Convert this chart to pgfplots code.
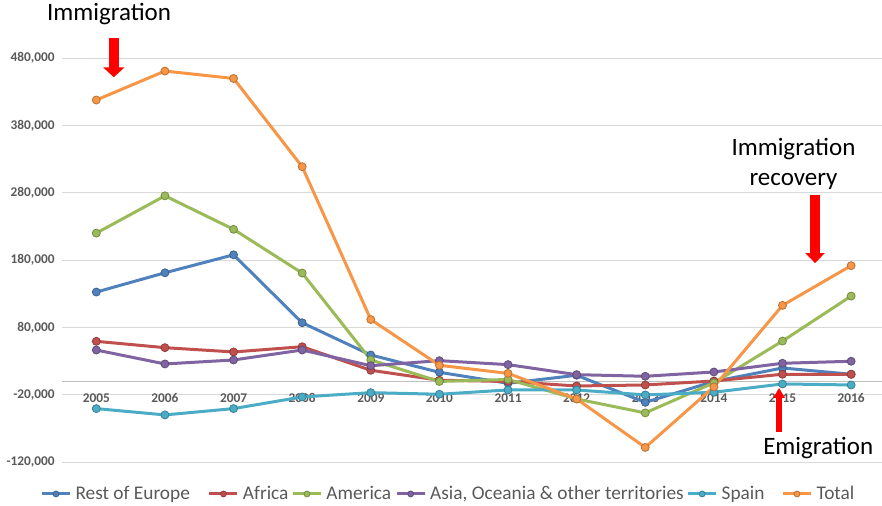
\documentclass[border=0pt]{standalone}
\usepackage{fontspec}
\setmainfont{Carlito}
\usepackage{pgfplots}
\pgfplotsset{compat=1.18}
\usetikzlibrary{arrows.meta}
\definecolor{cEur}{HTML}{4F81BD}
\definecolor{cAfr}{HTML}{C0504D}
\definecolor{cAme}{HTML}{9BBB59}
\definecolor{cAsi}{HTML}{8064A2}
\definecolor{cSpa}{HTML}{4BACC6}
\definecolor{cTot}{HTML}{F79646}
\definecolor{tickgray}{HTML}{595959}
\definecolor{gridgray}{HTML}{D9D9D9}
\definecolor{zerogray}{HTML}{BFBFBF}
\begin{document}
\begin{tikzpicture}
\begin{axis}[name=ax,
  scale only axis, width=615pt, height=303pt,
  xmin=2004.5, xmax=2016.45, ymin=-120000, ymax=480000,
  scaled y ticks=false, scaled x ticks=false,
  axis x line=middle, axis y line=left,
  axis line style={-},
  x axis line style={draw=zerogray, line width=0.75pt},
  y axis line style={draw=none},
  xtick={2005,2006,2007,2008,2009,2010,2011,2012,2013,2014,2015,2016},
  xticklabels={2005,2006,2007,2008,2009,2010,2011,2012,2013,2014,2015,2016},
  ytick={-120000,-20000,80000,180000,280000,380000,480000},
  yticklabels={{-120,000},{-20,000},{80,000},{180,000},{280,000},{380,000},{480,000}},
  ymajorgrids, grid style={gridgray, line width=0.75pt},
  major tick length=0pt,
  tick label style={font=\fontsize{10}{12}\selectfont\bfseries, text=tickgray},
  yticklabel style={xshift=-2pt},
  xticklabel style={yshift=-5.5pt},
  clip=false,
  every axis plot/.append style={line width=2.25pt, mark=*, mark size=3pt},
  legend columns=6,
  legend cell align=left,
  legend style={at={(0.4713,-0.0785)}, anchor=center, draw=none, fill=none,
    font=\fontsize{14.5}{17}\selectfont, text=tickgray,
    inner sep=0pt, column sep=0pt, nodes={inner sep=1.5pt},
    /tikz/every odd column/.append style={column sep=1.5pt},
    /tikz/column 2/.style={column sep=12pt},
    /tikz/column 4/.style={column sep=0.75pt},
    /tikz/column 6/.style={column sep=1.5pt},
    /tikz/column 8/.style={column sep=0.75pt},
    /tikz/column 10/.style={column sep=11.25pt}},
  legend image code/.code={\draw[mark repeat=2,mark phase=2,line width=2.25pt,mark size=2.2pt] plot coordinates {(0pt,0pt) (10.5pt,0pt) (21pt,0pt)};},
]
\addplot[color=cEur, mark options={fill=cEur, draw=cEur!75!black, line width=0.6pt}] coordinates {
(2005,132800) (2006,161400) (2007,188100) (2008,87200) (2009,39300) (2010,13600)
(2011,-2700) (2012,9200) (2013,-31000) (2014,0) (2015,20000) (2016,10700)};
\addlegendentry{Rest of Europe}
\addplot[color=cAfr, mark options={fill=cAfr, draw=cAfr!75!black, line width=0.6pt}] coordinates {
(2005,59600) (2006,50200) (2007,43800) (2008,51600) (2009,16600) (2010,1800)
(2011,0) (2012,-6700) (2013,-5200) (2014,700) (2015,10700) (2016,10700)};
\addlegendentry{Africa}
\addplot[color=cAme, mark options={fill=cAme, draw=cAme!75!black, line width=0.6pt}] coordinates {
(2005,220300) (2006,275700) (2007,226000) (2008,161000) (2009,32000) (2010,0)
(2011,3000) (2012,-26000) (2013,-46700) (2014,-2000) (2015,60000) (2016,126800)};
\addlegendentry{America}
\addplot[color=cAsi, mark options={fill=cAsi, draw=cAsi!75!black, line width=0.6pt}] coordinates {
(2005,46700) (2006,26000) (2007,31900) (2008,46700) (2009,23400) (2010,30900)
(2011,25000) (2012,10100) (2013,7700) (2014,14100) (2015,27000) (2016,30000)};
\addlegendentry{Asia, Oceania \& other territories}
\addplot[color=cSpa, mark options={fill=cSpa, draw=cSpa!75!black, line width=0.6pt}] coordinates {
(2005,-40300) (2006,-49700) (2007,-40300) (2008,-23000) (2009,-16600) (2010,-19000)
(2011,-12600) (2012,-12600) (2013,-20000) (2014,-16000) (2015,-3700) (2016,-5200)};
\addlegendentry{Spain}
\addplot[color=cTot, mark options={fill=cTot, draw=cTot!75!black, line width=0.6pt}] coordinates {
(2005,418000) (2006,461000) (2007,450000) (2008,319000) (2009,92000) (2010,24000)
(2011,12000) (2012,-26000) (2013,-98000) (2014,-8000) (2015,113000) (2016,172000)};
\addlegendentry{Total}

\node[font=\fontsize{18.75}{22}\selectfont, anchor=base, text=black] at (axis cs:2005.185,535400) {Immigration};
\draw[red, line width=7.5pt, -{Triangle[width=15.75pt,length=7.5pt]}] (axis cs:2005.255,509600) -- (axis cs:2005.255,451800);
\node[font=\fontsize{18.75}{22}\selectfont, anchor=base, text=black] at (axis cs:2015.16,334900) {Immigration};
\node[font=\fontsize{18.75}{22}\selectfont, anchor=base, text=black] at (axis cs:2015.16,290300) {recovery};
\draw[red, line width=7pt, -{Triangle[width=14.25pt,length=7.5pt]}] (axis cs:2015.474,276700) -- (axis cs:2015.474,175800);
\node[font=\fontsize{18.75}{22}\selectfont, anchor=base, text=black] at (axis cs:2015.52,-109200) {Emigration};
\draw[red, line width=4.5pt, -{Triangle[width=8.25pt,length=7.5pt]}] (axis cs:2014.95,-74900) -- (axis cs:2014.95,-9600);
\end{axis}
\pgfresetboundingbox
\path[use as bounding box] ([xshift=-46.5pt,yshift=-32.8pt]ax.south west) rectangle ([yshift=43.7pt]ax.north east);
\end{tikzpicture}
\end{document}
